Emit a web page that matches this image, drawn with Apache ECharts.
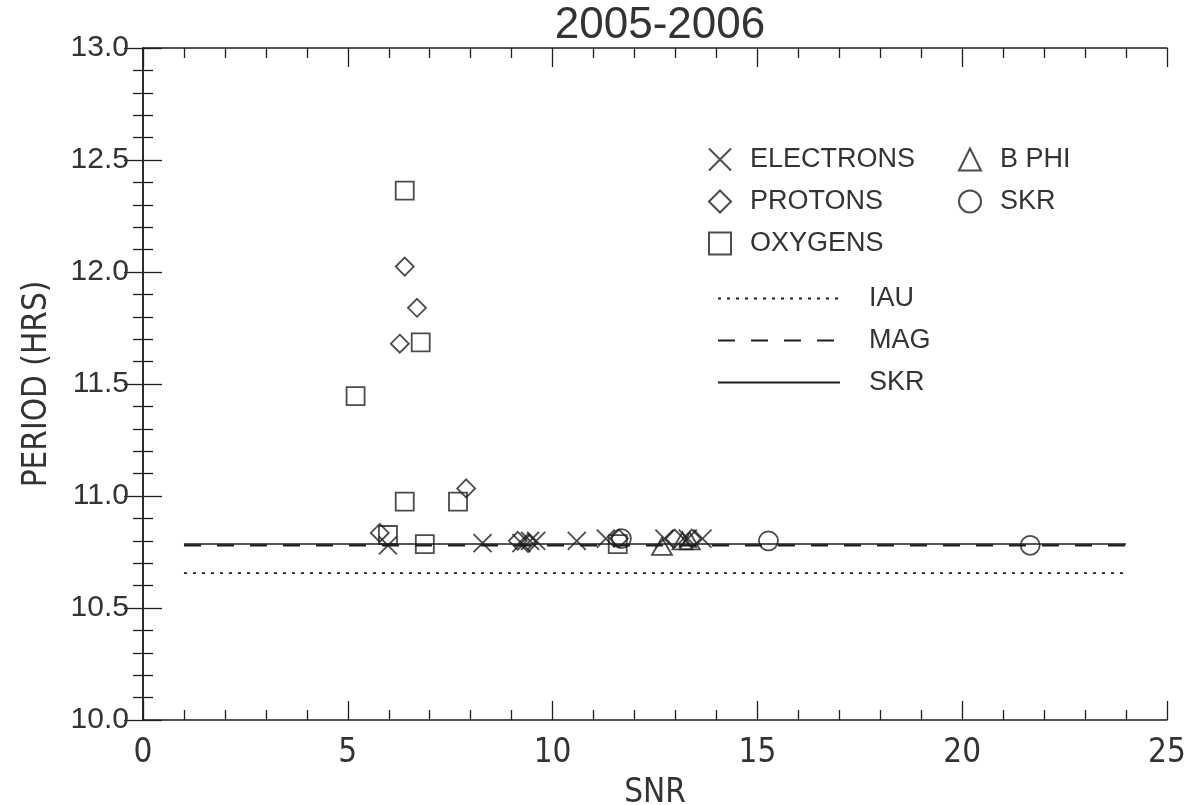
<!DOCTYPE html>
<html>
<head>
<meta charset="utf-8">
<script src="https://cdn.jsdelivr.net/npm/echarts@6/dist/echarts.min.js"></script>
<style>
html,body{margin:0;padding:0;background:#fff;}
#main{width:1189px;height:805px;}
</style>
</head>
<body>
<div id="main"></div>
<script>
// ---- data ----
var titleText = '2005-2006';
var xAxisName = 'SNR';
var yAxisName = 'PERIOD (HRS)';
var xRange = [0, 25, 5];
var yRange = [10.0, 13.0, 0.5];

var electrons = [[5.98,10.78],[8.29,10.79],[9.24,10.79],[9.45,10.80],[9.6,10.80],[10.59,10.80],[11.3,10.81],[12.73,10.81],[13.3,10.81],[13.66,10.81]];
var protons = [[5.78,10.835],[6.27,11.68],[6.39,12.024],[6.69,11.84],[7.89,11.034],[9.15,10.80],[9.4,10.79],[11.62,10.81],[12.98,10.81],[13.4,10.81]];
var oxygens = [[5.19,11.446],[5.98,10.826],[6.39,12.363],[6.39,10.975],[6.78,11.686],[6.88,10.785],[7.69,10.975],[11.59,10.785]];
var bphi = [[12.67,10.775],[13.17,10.80],[13.35,10.80]];
var skrPoints = [[11.68,10.81],[15.27,10.80],[21.66,10.78]];

var lineSpan = [1, 24];
var iauPeriod = 10.656;
var magPeriod = 10.78;
var skrPeriod = 10.786;

var scatterNames = ['ELECTRONS','PROTONS','OXYGENS'];
var scatterNames2 = ['B PHI','SKR'];
var lineNames = ['IAU','MAG','SKR '];

// ---- chart ----
var ink = '#1e1e1e';
var txt = '#333';
var clear = 'rgba(0,0,0,0)';
var crossPath = 'path://M0,0L10,10M10,0L0,10';

function hline(v){ return [[lineSpan[0], v],[lineSpan[1], v]]; }

function scatter(name, data, symbol, size){
  return {
    name: name, type: 'scatter', data: data, symbol: symbol, symbolSize: size,
    xAxisIndex: 0, yAxisIndex: 0,
    itemStyle: {color: clear, borderColor: ink, borderWidth: 1.8},
    emphasis: {disabled: true}, z: 5
  };
}
function line(name, v, type, width){
  return {
    name: name, type: 'line', data: hline(v), symbol: 'circle', symbolSize: 0, showSymbol: false,
    xAxisIndex: 0, yAxisIndex: 0,
    lineStyle: {color: ink, width: width, type: type},
    itemStyle: {color: clear, borderColor: clear, borderWidth: 0},
    emphasis: {disabled: true}, z: 3, silent: true
  };
}

var axisCommon = {
  axisLine: {show: true, lineStyle: {color: ink, width: 1.5}},
  axisTick: {show: true, inside: true, length: 19, lineStyle: {color: ink, width: 1.3}},
  minorTick: {show: true, splitNumber: 5, length: 10, lineStyle: {color: ink, width: 1.3}},
  splitLine: {show: false}
};

var condensed = 'Liberation Sans Narrow, DejaVu Sans Condensed, Liberation Sans, sans-serif';

var option = {
  backgroundColor: '#fff',
  animation: false,
  title: {
    text: titleText, left: 655, top: -1, textAlign: 'center',
    textStyle: {fontSize: 44, fontWeight: 'normal', color: txt, fontFamily: 'Liberation Sans, sans-serif'}
  },
  grid: {left: 143, right: 22, top: 48, bottom: 85, containLabel: false, outerBoundsMode: 'none'},
  xAxis: [
    Object.assign({
      type: 'value', min: xRange[0], max: xRange[1], interval: xRange[2], position: 'bottom',
      name: xAxisName, nameLocation: 'middle', nameGap: 57,
      nameTextStyle: {fontSize: 33, color: txt, fontFamily: condensed},
      axisLabel: {fontSize: 33, margin: 17, color: txt, fontFamily: condensed}
    }, axisCommon),
    Object.assign({
      type: 'value', min: xRange[0], max: xRange[1], interval: xRange[2], position: 'top',
      axisLabel: {show: false}
    }, axisCommon)
  ],
  yAxis: [
    Object.assign({
      type: 'value', min: yRange[0], max: yRange[1], interval: yRange[2], position: 'left',
      name: yAxisName, nameLocation: 'middle', nameGap: 89, nameRotate: 90,
      nameTextStyle: {fontSize: 33, color: txt, fontFamily: condensed},
      axisLabel: {fontSize: 30, margin: 14, color: txt, fontFamily: 'Liberation Sans, sans-serif',
        formatter: function(v){ return v.toFixed(1); }}
    }, axisCommon),
    Object.assign({
      type: 'value', min: yRange[0], max: yRange[1], interval: yRange[2], position: 'right',
      axisLabel: {show: false}
    }, axisCommon)
  ],
  legend: [
    {
      data: scatterNames, orient: 'vertical', left: 703, top: 141, itemGap: 15,
      itemWidth: 22, itemHeight: 22, selectedMode: false,
      textStyle: {fontSize: 27, color: txt, padding: [0,0,0,14], fontFamily: 'Liberation Sans, sans-serif'}
    },
    {
      data: scatterNames2, orient: 'vertical', left: 953, top: 141, itemGap: 15,
      itemWidth: 22, itemHeight: 22, selectedMode: false,
      textStyle: {fontSize: 27, color: txt, padding: [0,0,0,14], fontFamily: 'Liberation Sans, sans-serif'}
    },
    {
      data: lineNames, orient: 'vertical', left: 712, top: 280, itemGap: 15,
      itemWidth: 122, itemHeight: 28, selectedMode: false,
      formatter: function(n){ return n.trim(); },
      textStyle: {fontSize: 27, color: txt, padding: [0,0,0,24], fontFamily: 'Liberation Sans, sans-serif'}
    }
  ],
  series: [
    scatter('ELECTRONS', electrons, crossPath, 18),
    scatter('PROTONS', protons, 'diamond', [18,18]),
    scatter('OXYGENS', oxygens, 'rect', 18),
    scatter('B PHI', bphi, 'triangle', [20,17]),
    scatter('SKR', skrPoints, 'circle', 19),
    line('IAU', iauPeriod, [3,6], 1.8),
    line('MAG', magPeriod, [17,16], 2.2),
    line('SKR ', skrPeriod, 'solid', 1.6)
  ]
};

var chart = echarts.init(document.getElementById('main'), null, {renderer: 'canvas'});
chart.setOption(option);
</script>
</body>
</html>
